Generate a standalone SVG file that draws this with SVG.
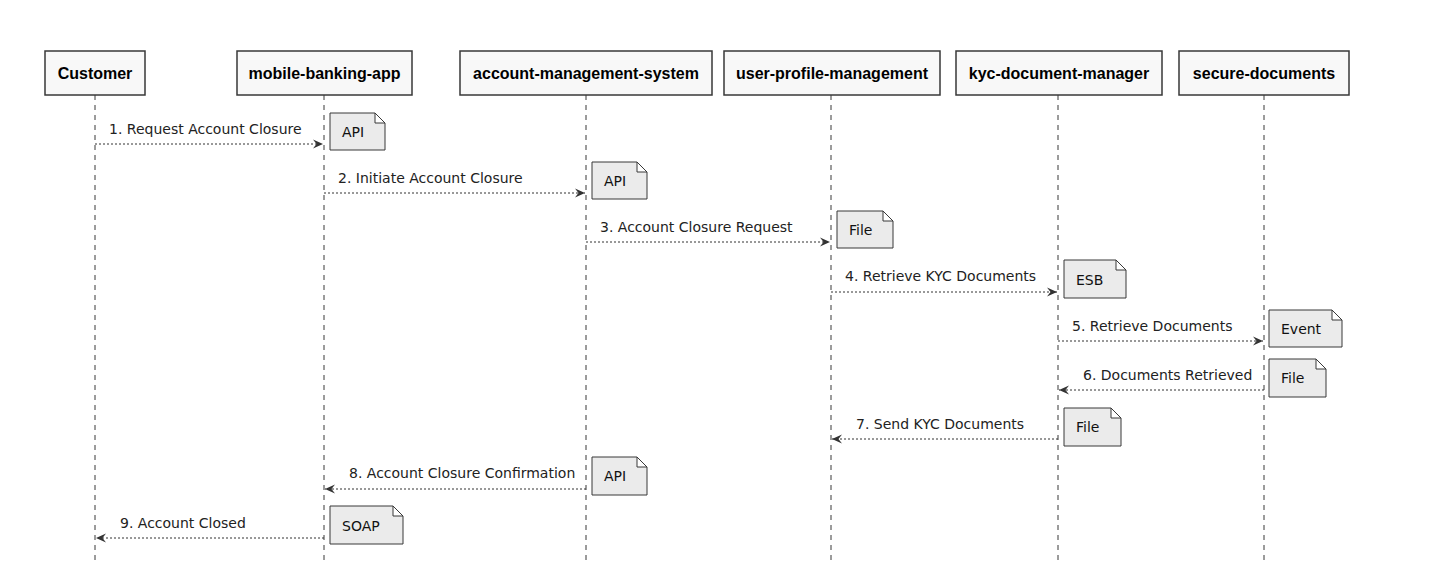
<svg xmlns="http://www.w3.org/2000/svg" width="1435" height="572" viewBox="0 0 1435 572">
<style>
.bg{fill:#ffffff}
.pbox{fill:#f8f8f8;stroke:#383838;stroke-width:1.5}
.ptext{font-family:"Liberation Sans",Arial,sans-serif;font-weight:bold;font-size:16px;fill:#000;text-anchor:middle}
.life{stroke:#383838;stroke-width:1;stroke-dasharray:5,5;fill:none}
.msg{stroke:#333333;stroke-width:1;stroke-dasharray:2,2;fill:none}
.mtext{font-family:"DejaVu Sans",sans-serif;font-size:14px;fill:#222}
.note{fill:#ebebeb;stroke:#383838;stroke-width:1}
.ntext{font-family:"DejaVu Sans",sans-serif;font-size:14px;fill:#111}
</style>
<defs>
<marker id="ah" markerWidth="12" markerHeight="12" refX="10" refY="6" orient="auto" markerUnits="userSpaceOnUse">
<polygon points="0,1.5 10,6 0,10.5 3.5,6" fill="#333333"/>
</marker>
</defs>
<rect class="bg" x="0" y="0" width="1435" height="572"/>
<g id="lifelines">
<line class="life" x1="95" y1="95" x2="95" y2="560"/>
<line class="life" x1="324" y1="95" x2="324" y2="560"/>
<line class="life" x1="586" y1="95" x2="586" y2="560"/>
<line class="life" x1="831" y1="95" x2="831" y2="560"/>
<line class="life" x1="1058" y1="95" x2="1058" y2="560"/>
<line class="life" x1="1264" y1="95" x2="1264" y2="560"/>
</g>
<g id="customer"><rect class="pbox" x="45" y="51" width="100" height="44"/><text class="ptext" x="95" y="79">Customer</text></g>
<g id="mobile-banking-app"><rect class="pbox" x="237" y="51" width="175" height="44"/><text class="ptext" x="324.5" y="79">mobile-banking-app</text></g>
<g id="account-management-system"><rect class="pbox" x="460" y="51" width="252" height="44"/><text class="ptext" x="586" y="79">account-management-system</text></g>
<g id="user-profile-management"><rect class="pbox" x="724" y="51" width="216" height="44"/><text class="ptext" x="832" y="79">user-profile-management</text></g>
<g id="kyc-document-manager"><rect class="pbox" x="956" y="51" width="206" height="44"/><text class="ptext" x="1059" y="79">kyc-document-manager</text></g>
<g id="secure-documents"><rect class="pbox" x="1179" y="51" width="170" height="44"/><text class="ptext" x="1264" y="79">secure-documents</text></g>
<g id="connectors">
<line class="msg" x1="95" y1="144" x2="323" y2="144" marker-end="url(#ah)"/>
<text class="mtext" x="109" y="134">1. Request Account Closure</text>
<line class="msg" x1="324" y1="193" x2="585" y2="193" marker-end="url(#ah)"/>
<text class="mtext" x="338" y="183">2. Initiate Account Closure</text>
<line class="msg" x1="586" y1="242" x2="830" y2="242" marker-end="url(#ah)"/>
<text class="mtext" x="600" y="232">3. Account Closure Request</text>
<line class="msg" x1="831" y1="292" x2="1057" y2="292" marker-end="url(#ah)"/>
<text class="mtext" x="845" y="281">4. Retrieve KYC Documents</text>
<line class="msg" x1="1058" y1="341" x2="1263" y2="341" marker-end="url(#ah)"/>
<text class="mtext" x="1072" y="331">5. Retrieve Documents</text>
<line class="msg" x1="1264" y1="390" x2="1059" y2="390" marker-end="url(#ah)"/>
<text class="mtext" x="1083" y="380">6. Documents Retrieved</text>
<line class="msg" x1="1058" y1="439" x2="832" y2="439" marker-end="url(#ah)"/>
<text class="mtext" x="856" y="429">7. Send KYC Documents</text>
<line class="msg" x1="586" y1="489" x2="325" y2="489" marker-end="url(#ah)"/>
<text class="mtext" x="349" y="478">8. Account Closure Confirmation</text>
<line class="msg" x1="324" y1="538" x2="96" y2="538" marker-end="url(#ah)"/>
<text class="mtext" x="120" y="528">9. Account Closed</text>
</g>
<g id="note1"><path class="note" d="M330,113 H375 L385,123 V150 H330 Z M375,113 V123 H385"/><text class="ntext" x="342" y="137">API</text></g>
<g id="note2"><path class="note" d="M592,162 H637 L647,172 V199 H592 Z M637,162 V172 H647"/><text class="ntext" x="604" y="186">API</text></g>
<g id="note3"><path class="note" d="M837,211 H883 L893,221 V248 H837 Z M883,211 V221 H893"/><text class="ntext" x="849" y="235">File</text></g>
<g id="note4"><path class="note" d="M1064,260 H1116 L1126,270 V298 H1064 Z M1116,260 V270 H1126"/><text class="ntext" x="1076" y="285">ESB</text></g>
<g id="note5"><path class="note" d="M1269,310 H1332 L1342,320 V347 H1269 Z M1332,310 V320 H1342"/><text class="ntext" x="1281" y="334">Event</text></g>
<g id="note6"><path class="note" d="M1269,359 H1316 L1326,369 V397 H1269 Z M1316,359 V369 H1326"/><text class="ntext" x="1281" y="383">File</text></g>
<g id="note7"><path class="note" d="M1064,408 H1111 L1121,418 V446 H1064 Z M1111,408 V418 H1121"/><text class="ntext" x="1076" y="432">File</text></g>
<g id="note8"><path class="note" d="M592,457 H637 L647,467 V495 H592 Z M637,457 V467 H647"/><text class="ntext" x="604" y="481">API</text></g>
<g id="note9"><path class="note" d="M330,506 H393 L403,516 V544 H330 Z M393,506 V516 H403"/><text class="ntext" x="342" y="531">SOAP</text></g>
</svg>
